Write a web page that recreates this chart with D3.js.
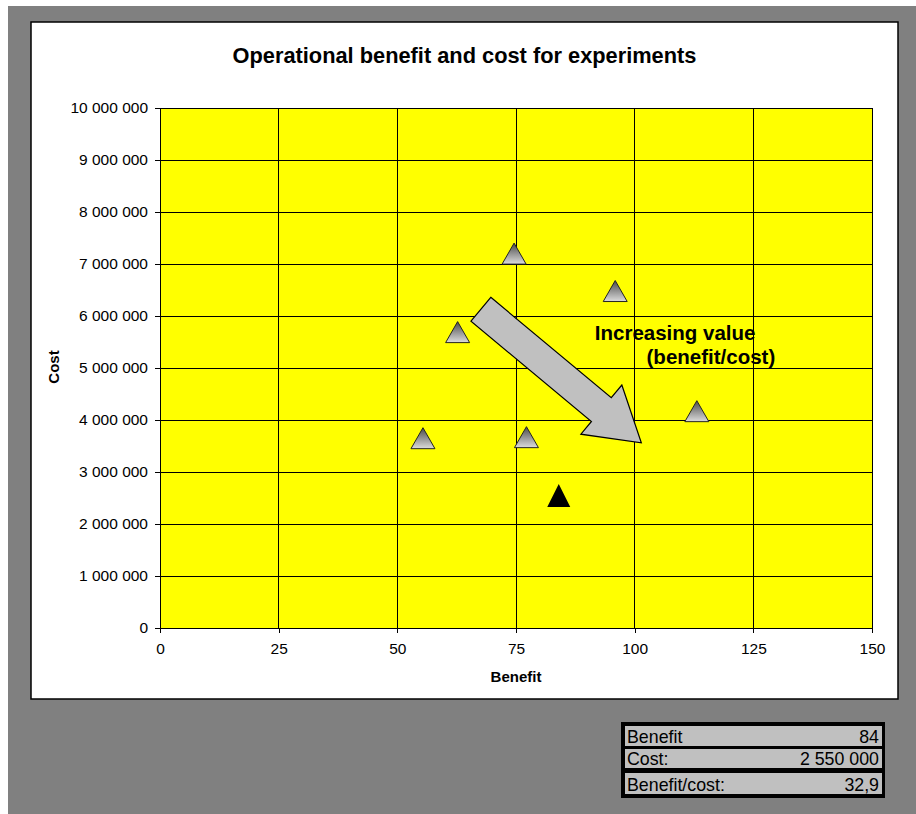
<!DOCTYPE html>
<html>
<head>
<meta charset="utf-8">
<script src="https://cdn.jsdelivr.net/npm/d3@7"></script>
<style>
  html, body { margin: 0; padding: 0; background: #ffffff; }
  svg { display: block; font-family: "Liberation Sans", Arial, sans-serif; }
</style>
</head>
<body>
<svg id="chart" width="916" height="814"></svg>
<script>
// ---- data ----
const chartTitle = "Operational benefit and cost for experiments";
const xLabel = "Benefit";
const yLabel = "Cost";
const benefit = [74.6, 95.9, 62.7, 55.4, 77.2, 113.1];
const cost = [7200000, 6480000, 5690000, 3650000, 3670000, 4170000];
const selectedBenefit = [84];
const selectedCost = [2550000];
const xTicks = [0, 25, 50, 75, 100, 125, 150];
const yTicks = [0, 1000000, 2000000, 3000000, 4000000, 5000000, 6000000, 7000000, 8000000, 9000000, 10000000];
// annotation arrow (data units): tail centre and tip
const arrowFrom = [67.6, 6130000];
const arrowTo = [101.4, 3560000];
const annotationLines = ["Increasing value", "(benefit/cost)"];
const annotationAnchors = [[91.6, 5540000], [102.5, 5070000]];
const tableLabels = ["Benefit", "Cost:", "Benefit/cost:"];

// ---- setup ----
const locale = d3.formatLocale({ decimal: ",", thousands: " ", grouping: [3], currency: ["", ""] });
const fmtInt = locale.format(",d");
const fmtRatio = locale.format(".1f");

const svg = d3.select("#chart");
const W = 916, H = 814;

// page background
svg.append("rect").attr("x", 8).attr("y", 6).attr("width", W - 8).attr("height", H - 6).attr("fill", "#808080");
// chart area
svg.append("rect").attr("x", 31).attr("y", 22).attr("width", 867).attr("height", 677)
  .attr("fill", "#ffffff").attr("stroke", "#000").attr("stroke-width", 1.5);

const plot = { left: 160, right: 872, top: 108, bottom: 628 };
const x = d3.scaleLinear().domain([0, 150]).range([plot.left, plot.right]);
const y = d3.scaleLinear().domain([0, 10000000]).range([plot.bottom, plot.top]);

const defs = svg.append("defs");
const grad = defs.append("linearGradient").attr("id", "triGrad")
  .attr("x1", 0).attr("y1", 0).attr("x2", 0).attr("y2", 1);
grad.append("stop").attr("offset", "0%").attr("stop-color", "#4a4a4a");
grad.append("stop").attr("offset", "100%").attr("stop-color", "#dcdcdc");

// plot background
svg.append("rect").attr("x", plot.left).attr("y", plot.top)
  .attr("width", plot.right - plot.left).attr("height", plot.bottom - plot.top)
  .attr("fill", "#ffff00");

// grid
const grid = svg.append("g").attr("shape-rendering", "crispEdges");
grid.selectAll("line.v").data(xTicks).join("line").attr("class", "v")
  .attr("x1", d => x(d)).attr("x2", d => x(d)).attr("y1", plot.top).attr("y2", plot.bottom)
  .attr("stroke", "#000").attr("stroke-width", 1);
grid.selectAll("line.h").data(yTicks).join("line").attr("class", "h")
  .attr("y1", d => y(d)).attr("y2", d => y(d)).attr("x1", plot.left).attr("x2", plot.right)
  .attr("stroke", "#000").attr("stroke-width", 1);

// axes
const xAxis = d3.axisBottom(x).tickValues(xTicks).tickSize(5).tickPadding(10).tickFormat(d3.format("d"));
const yAxis = d3.axisLeft(y).tickValues(yTicks).tickSize(5).tickPadding(7).tickFormat(fmtInt);
const gx = svg.append("g").attr("transform", `translate(0,${plot.bottom})`).call(xAxis);
const gy = svg.append("g").attr("transform", `translate(${plot.left},0)`).call(yAxis);
[gx, gy].forEach(g => {
  g.select(".domain").attr("stroke", "#000").attr("shape-rendering", "crispEdges");
  g.selectAll(".tick line").attr("stroke", "#000").attr("shape-rendering", "crispEdges");
  g.selectAll(".tick text").attr("fill", "#000").style("font-size", "15.5px")
    .style("font-family", '"Liberation Sans", Arial, sans-serif');
});
gx.select(".domain").attr("d", `M${plot.left},0H${plot.right}`);
gy.select(".domain").attr("d", `M0,${plot.bottom}V${plot.top}`);

// titles
svg.append("text").attr("x", 464.5).attr("y", 63).attr("text-anchor", "middle")
  .style("font-size", "21.8px").style("font-weight", "bold").text(chartTitle);
svg.append("text").attr("x", 516).attr("y", 682).attr("text-anchor", "middle")
  .style("font-size", "15px").style("font-weight", "bold").text(xLabel);
svg.append("text").attr("transform", "translate(59,367) rotate(-90)").attr("text-anchor", "middle")
  .style("font-size", "15px").style("font-weight", "bold").text(yLabel);

// markers
const triPath = "M0,-10.5L12,10.5L-12,10.5Z";
const pts = benefit.map((b, i) => ({ b, c: cost[i] }));
svg.append("g").selectAll("path").data(pts).join("path")
  .attr("transform", d => `translate(${x(d.b)},${y(d.c)})`)
  .attr("d", triPath).attr("fill", "url(#triGrad)").attr("stroke", "#222").attr("stroke-width", 1);
svg.append("g").selectAll("path").data(selectedBenefit.map((b, i) => ({ b, c: selectedCost[i] }))).join("path")
  .attr("transform", d => `translate(${x(d.b)},${y(d.c)})`)
  .attr("d", "M0,-11.5L11.5,11.5L-11.5,11.5Z").attr("fill", "#000");

// block arrow
(function () {
  const x0 = x(arrowFrom[0]), y0 = y(arrowFrom[1]);
  const x1 = x(arrowTo[0]), y1 = y(arrowTo[1]);
  const L = Math.hypot(x1 - x0, y1 - y0);
  const ang = Math.atan2(y1 - y0, x1 - x0) * 180 / Math.PI;
  const sw = 15.5, hl = 52, hw = 32;
  const local = [[0, -sw], [L - hl, -sw], [L - hl, -hw], [L, 0], [L - hl, hw], [L - hl, sw], [0, sw]];
  svg.append("path")
    .attr("transform", `translate(${x0},${y0}) rotate(${ang})`)
    .attr("d", "M" + local.map(p => p.join(",")).join("L") + "Z")
    .attr("fill", "#c0c0c0").attr("stroke", "#000").attr("stroke-width", 1.2)
    .attr("stroke-linejoin", "miter");
})();

// annotation text
svg.append("g").selectAll("text").data(annotationLines).join("text")
  .attr("x", (d, i) => x(annotationAnchors[i][0]))
  .attr("y", (d, i) => y(annotationAnchors[i][1]))
  .style("font-size", "20.5px").style("font-weight", "bold").attr("fill", "#000").text(d => d);

// table
const ratio = selectedBenefit[0] / selectedCost[0] * 1e6;
const tableValues = [fmtInt(selectedBenefit[0]), fmtInt(selectedCost[0]), fmtRatio(ratio)];
svg.append("rect").attr("x", 621).attr("y", 722).attr("width", 264).attr("height", 76).attr("fill", "#000");
const rowsY = [726, 749, 773], rowsH = [20, 19, 21];
const tg = svg.append("g");
tableLabels.forEach((lab, i) => {
  tg.append("rect").attr("x", 625).attr("y", rowsY[i]).attr("width", 257).attr("height", rowsH[i]).attr("fill", "#c0c0c0");
  tg.append("text").attr("x", 627).attr("y", rowsY[i] + rowsH[i] - 3).style("font-size", "17.8px").text(lab);
  tg.append("text").attr("x", 879).attr("y", rowsY[i] + rowsH[i] - 3).attr("text-anchor", "end")
    .style("font-size", "17.8px").text(tableValues[i]);
});
</script>
</body>
</html>
